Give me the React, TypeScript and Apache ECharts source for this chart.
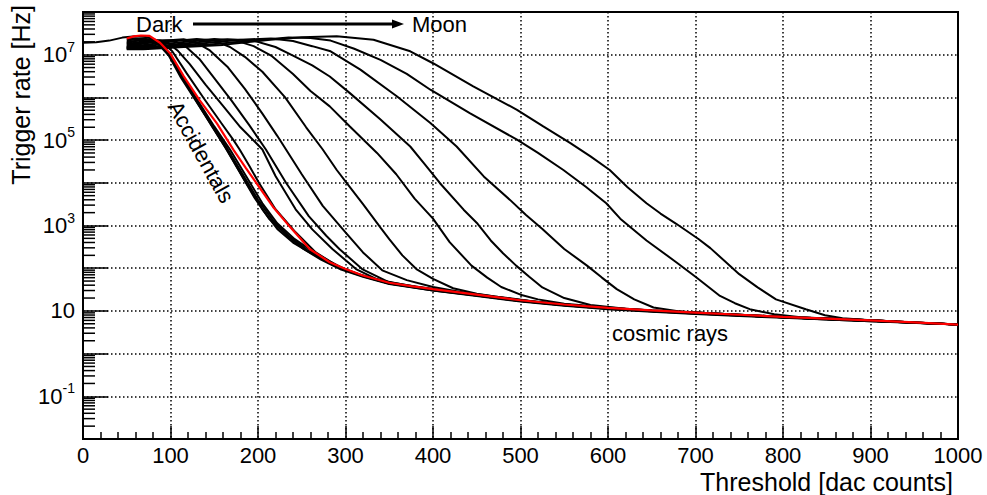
import React, { useEffect, useRef } from "react";
import * as echarts from "echarts";

// Each curve: [threshold (dac counts), log10(trigger rate / Hz)].
const curveDark0 = [[0,7.28],[15,7.29],[30,7.33],[45,7.40],[60,7.43],[75,7.41],[88,7.28],[100,6.98],[114,6.45],[130,5.9],[148,5.3],[166,4.72],[185,4.05],[205,3.38],[222,2.92],[240,2.6],[258,2.38],[280,2.14],[300,1.95],[325,1.79],[350,1.64],[400,1.49],[450,1.36],[500,1.23],[550,1.13],[600,1.05],[650,0.99],[700,0.94],[750,0.89],[800,0.85],[850,0.80],[900,0.76],[930,0.74]];
const curveDark1 = [[50,7.36],[60,7.38],[72,7.37],[85,7.27],[98,6.98],[112,6.46],[128,5.95],[146,5.38],[162,4.85],[180,4.22],[196,3.65],[213,3.15],[232,2.78],[252,2.45],[272,2.2],[295,1.97],[320,1.8],[350,1.63],[400,1.48],[450,1.35],[500,1.22],[550,1.12],[600,1.04],[650,0.98],[700,0.93],[750,0.88],[800,0.84],[850,0.8],[900,0.76],[960,0.71],[1000,0.68]];
const curveDark2 = [[50,7.33],[62,7.36],[75,7.35],[88,7.24],[100,6.95],[114,6.45],[130,5.92],[148,5.35],[165,4.8],[184,4.15],[200,3.6],[217,3.12],[236,2.74],[256,2.43],[275,2.2],[298,1.96],[322,1.8],[350,1.64],[400,1.48],[450,1.36],[500,1.23],[550,1.13],[600,1.05],[650,0.99],[700,0.94],[750,0.89],[800,0.85],[850,0.81],[900,0.77],[950,0.72],[1000,0.68]];
const curveDark3 = [[50,7.3],[64,7.33],[78,7.33],[90,7.22],[102,6.93],[116,6.43],[132,5.9],[150,5.32],[168,4.78],[188,4.1],[205,3.52],[222,3.05],[242,2.68],[262,2.4],[282,2.16],[302,1.95],[325,1.79],[350,1.65],[400,1.5],[450,1.37],[500,1.24],[550,1.14],[600,1.06],[650,1.0],[700,0.95],[750,0.9],[800,0.85],[850,0.81],[900,0.77],[935,0.74]];
const curvePhase1 = [[50,7.27],[62,7.33],[76,7.37],[90,7.3],[102,7.08],[118,6.58],[138,5.98],[158,5.4],[172,5.0],[179,4.78],[190,4.4],[201,4.0],[220,3.38],[243,2.84],[266,2.37],[290,2.06],[315,1.86],[340,1.72],[370,1.6],[400,1.5],[450,1.37],[500,1.24],[550,1.14],[600,1.06],[650,1.0],[700,0.95],[750,0.9],[800,0.85],[850,0.81],[900,0.77],[950,0.72],[1000,0.68]];
const curvePhase2 = [[50,7.25],[65,7.3],[82,7.35],[96,7.3],[108,7.1],[122,6.78],[140,6.3],[160,5.8],[180,5.3],[197,4.95],[205,4.78],[220,4.16],[243,3.38],[262,2.91],[285,2.45],[312,1.98],[335,1.75],[360,1.62],[400,1.5],[450,1.37],[500,1.24],[550,1.14],[600,1.06],[650,1.0],[700,0.95],[750,0.9],[800,0.85],[850,0.81],[900,0.77],[930,0.75]];
const curvePhase3 = [[50,7.22],[68,7.28],[88,7.34],[104,7.33],[118,7.18],[133,6.9],[150,6.45],[170,5.92],[190,5.35],[209,4.78],[232,4.0],[258,3.22],[278,2.76],[293,2.45],[319,1.98],[350,1.67],[380,1.57],[420,1.46],[470,1.33],[520,1.21],[600,1.06],[650,1.0],[700,0.95],[750,0.9],[800,0.85],[850,0.81],[900,0.77],[950,0.72],[1000,0.68]];
const curvePhase4 = [[50,7.2],[70,7.26],[95,7.33],[115,7.36],[128,7.3],[145,7.1],[165,6.72],[185,6.2],[205,5.62],[222,5.1],[232,4.78],[250,4.2],[274,3.46],[300,2.84],[320,2.37],[342,1.95],[370,1.72],[400,1.56],[430,1.45],[470,1.34],[520,1.21],[600,1.06],[650,1.0],[700,0.95],[750,0.9],[800,0.85],[850,0.81],[900,0.77],[950,0.72],[1000,0.68]];
const curvePhase5 = [[50,7.18],[75,7.24],[105,7.32],[130,7.37],[150,7.33],[168,7.18],[185,6.95],[205,6.6],[231,6.0],[255,5.3],[274,4.78],[290,4.3],[305,3.9],[320,3.5],[340,2.95],[350,2.68],[365,2.3],[381,1.98],[400,1.75],[423,1.53],[450,1.4],[500,1.25],[550,1.15],[600,1.07],[650,1.01],[700,0.96],[750,0.91],[800,0.86],[850,0.82],[900,0.78],[950,0.73],[1000,0.68]];
const curvePhase6 = [[50,7.17],[80,7.22],[115,7.3],[150,7.37],[175,7.33],[195,7.2],[215,6.98],[240,6.55],[260,6.15],[282,5.79],[305,5.32],[336,4.7],[358,4.2],[379,3.63],[400,3.16],[419,2.61],[444,2.06],[462,1.78],[478,1.56],[500,1.38],[520,1.27],[550,1.17],[600,1.08],[650,1.01],[700,0.96],[750,0.91],[800,0.86],[850,0.82],[900,0.78],[950,0.73],[1000,0.68]];
const curvePhase7 = [[50,7.16],[85,7.2],[125,7.28],[165,7.36],[195,7.33],[220,7.18],[240,6.98],[262,6.75],[282,6.49],[305,6.1],[340,5.48],[374,4.85],[390,4.45],[408,3.99],[435,3.37],[451,3.04],[466,2.65],[480,2.35],[495,2.06],[510,1.8],[525,1.55],[550,1.3],[580,1.14],[620,1.05],[650,1.01],[700,0.96],[750,0.91],[800,0.86],[850,0.82],[900,0.78],[950,0.73],[1000,0.68]];
const curvePhase8 = [[50,7.15],[90,7.18],[135,7.26],[180,7.35],[215,7.38],[240,7.32],[262,7.2],[283,7.08],[317,6.65],[359,6.02],[397,5.4],[427,4.85],[458,4.15],[488,3.6],[506,3.25],[525,2.92],[550,2.45],[576,2.06],[593,1.78],[610,1.51],[630,1.27],[652,1.08],[680,0.99],[700,0.96],[750,0.91],[800,0.86],[850,0.82],[900,0.78],[950,0.73],[1000,0.68]];
const curvePhase9 = [[50,7.14],[95,7.17],[145,7.24],[195,7.33],[235,7.4],[260,7.39],[283,7.33],[310,7.14],[340,6.88],[370,6.55],[397,6.18],[442,5.63],[496,5.01],[520,4.7],[549,4.3],[575,3.9],[598,3.52],[614,3.16],[644,2.65],[678,2.14],[700,1.8],[728,1.35],[745,1.18],[762,1.04],[790,0.92],[820,0.85],[850,0.82],[900,0.78],[950,0.73],[1000,0.68]];
const curveMoon = [[50,7.13],[69,7.13],[115,7.18],[160,7.23],[214,7.35],[250,7.41],[290,7.43],[332,7.35],[374,7.08],[400,6.8],[446,6.26],[496,5.71],[526,5.32],[557,4.93],[580,4.62],[602,4.3],[622,3.9],[644,3.52],[660,3.28],[678,3.04],[703,2.69],[717,2.47],[750,1.86],[771,1.55],[792,1.27],[826,1.04],[848,0.9],[868,0.83],[900,0.78],[930,0.75]];
const curveRed = [[50,7.38],[58,7.43],[66,7.45],[76,7.44],[88,7.28],[100,7.02],[115,6.5],[133,5.94],[153,5.39],[172,4.77],[186,4.35],[198,4.0],[217,3.44],[236,2.98],[259,2.45],[282,2.14],[300,1.98],[320,1.83],[350,1.66],[375,1.58],[400,1.51],[450,1.38],[500,1.25],[550,1.15],[600,1.07],[650,1.01],[700,0.96],[750,0.91],[800,0.86],[850,0.82],[900,0.78],[950,0.73],[1000,0.68]];

const blackCurves = [curveDark0, curveDark1, curveDark2, curveDark3, curvePhase1, curvePhase2, curvePhase3, curvePhase4, curvePhase5, curvePhase6, curvePhase7, curvePhase8, curvePhase9, curveMoon];

// axis definitions
const X_MIN = 0, X_MAX = 1000, X_STEP = 100;
const Y_MIN_EXP = -2, Y_MAX_EXP = 8;
const MINOR_MULTIPLIERS = [2, 3, 4, 5, 6, 7, 8, 9];

const FONT = "'Liberation Sans', Arial, Helvetica, sans-serif";

export default function App() {
  const ref = useRef<HTMLDivElement>(null);
  useEffect(() => {
    if (!ref.current) return;
    const chart = echarts.init(ref.current, undefined, { renderer: "svg" });

    const minorTicks: number[][] = [];
    for (let e = Y_MIN_EXP; e < Y_MAX_EXP; e++) {
      for (const m of MINOR_MULTIPLIERS) minorTicks.push([X_MIN, e + Math.log10(m)]);
    }

    const series: any[] = blackCurves.map((c) => ({
      type: "line",
      data: c,
      symbol: "none",
      showSymbol: false,
      silent: true,
      lineStyle: { color: "#000", width: 2 },
      z: 3,
    }));
    series.push({
      type: "line",
      data: curveRed,
      symbol: "none",
      showSymbol: false,
      silent: true,
      lineStyle: { color: "#ff0000", width: 2.2 },
      z: 4,
    });
    series.push({
      type: "custom",
      silent: true,
      clip: false,
      z: 6,
      data: minorTicks,
      renderItem: (_p: any, api: any) => {
        const p = api.coord([api.value(0), api.value(1)]);
        return {
          type: "line",
          shape: { x1: p[0], y1: p[1], x2: p[0] + 12, y2: p[1] },
          style: { stroke: "#000", lineWidth: 1.5 },
        };
      },
    });

    const dotted = { color: "#000", width: 1.5, type: [1.5, 2.5] };

    chart.setOption({
      animation: false,
      backgroundColor: "#fff",
      grid: {
        left: 83, right: 29, top: 12, bottom: 56,
        show: true, borderColor: "#000", borderWidth: 2, backgroundColor: "#fff",
      },
      xAxis: {
        type: "value", min: X_MIN, max: X_MAX, interval: X_STEP,
        axisLine: { show: true, onZero: false, lineStyle: { color: "#000", width: 2 } },
        axisTick: { show: true, inside: true, length: 13, lineStyle: { color: "#000", width: 1.5 } },
        minorTick: { show: true, splitNumber: 5, length: 7, lineStyle: { color: "#000", width: 1.5 } },
        axisLabel: { color: "#000", fontSize: 22, fontFamily: FONT, margin: 5, formatter: (v: number) => String(Math.round(v)) },
        splitLine: { show: true, lineStyle: dotted },
      },
      yAxis: {
        type: "value", min: Y_MIN_EXP, max: Y_MAX_EXP, interval: 1,
        axisLine: { show: true, onZero: false, lineStyle: { color: "#000", width: 2 } },
        axisTick: { show: true, inside: true, length: 25, lineStyle: { color: "#000", width: 1.5 } },
        axisLabel: {
          margin: 8,
          formatter: (v: number) => {
            const k = Math.round(v);
            if (k % 2 === 0) return "";
            if (k === 1) return "{b|10}";
            return "{b|10}{s|" + k + "}";
          },
          rich: {
            b: { fontSize: 22, lineHeight: 30, color: "#000", fontFamily: FONT },
            s: { fontSize: 14, lineHeight: 14, color: "#000", fontFamily: FONT, verticalAlign: "top" },
          },
        },
        splitLine: { show: true, lineStyle: dotted },
      },
      graphic: [
        { type: "text", x: 136, y: 24, z: 10, style: { text: "Dark", fill: "#000", font: `22px ${FONT}`, align: "left", verticalAlign: "middle" } },
        { type: "line", z: 10, shape: { x1: 193, y1: 24, x2: 395, y2: 24 }, style: { stroke: "#000", lineWidth: 3 } },
        { type: "polygon", z: 10, shape: { points: [[392, 19.5], [404, 24], [392, 28.5]] }, style: { fill: "#000" } },
        { type: "text", x: 412, y: 24, z: 10, style: { text: "Moon", fill: "#000", font: `22px ${FONT}`, align: "left", verticalAlign: "middle" } },
        { type: "text", x: 201, y: 152, z: 10, rotation: (-61 * Math.PI) / 180, style: { text: "Accidentals", fill: "#000", font: `22px ${FONT}`, align: "center", verticalAlign: "middle" } },
        { type: "text", x: 612, y: 333, z: 10, style: { text: "cosmic rays", fill: "#000", font: `22px ${FONT}`, align: "left", verticalAlign: "middle" } },
        { type: "text", x: 21, y: 5, z: 10, rotation: Math.PI / 2, style: { text: "Trigger rate [Hz]", fill: "#000", font: `25px ${FONT}`, align: "right", verticalAlign: "middle" } },
        { type: "text", x: 953, y: 482, z: 10, style: { text: "Threshold [dac counts]", fill: "#000", font: `25px ${FONT}`, align: "right", verticalAlign: "middle" } },
      ],
      series,
    });
    return () => chart.dispose();
  }, []);
  return <div ref={ref} style={{ position: "fixed", left: 0, top: 0, width: 987, height: 495 }} />;
}
